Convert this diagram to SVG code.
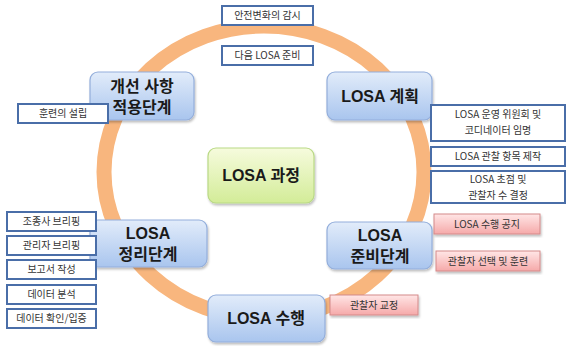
<svg xmlns="http://www.w3.org/2000/svg" width="567" height="346" viewBox="0 0 567 346">
<defs>
<linearGradient id="gBlue" x1="0" y1="0" x2="0" y2="1"><stop offset="0" stop-color="#E2ECFA"/><stop offset="1" stop-color="#A9C5EE"/></linearGradient>
<linearGradient id="gGreen" x1="0" y1="0" x2="0" y2="1"><stop offset="0" stop-color="#F6FBDD"/><stop offset="1" stop-color="#D3EC98"/></linearGradient>
<linearGradient id="gPink" x1="0" y1="0" x2="0" y2="1"><stop offset="0" stop-color="#FFE6E6"/><stop offset="1" stop-color="#F5A9A9"/></linearGradient>
<filter id="sh" x="-10%" y="-10%" width="120%" height="130%"><feDropShadow dx="1" dy="2" stdDeviation="1.2" flood-color="#000" flood-opacity="0.25"/></filter>
</defs>
<style>
.main{stroke:#93AEDB;stroke-width:1.2;fill:url(#gBlue);filter:url(#sh)}
.center{stroke:#B9D985;stroke-width:1.2;fill:url(#gGreen);filter:url(#sh)}
.note{fill:#fff;stroke:#4A6EA8;stroke-width:2}
.pink{fill:url(#gPink);stroke:#D48A8A;stroke-width:1;filter:url(#sh)}
.mt{font-family:"Liberation Sans","Noto Sans CJK KR",sans-serif;font-weight:bold;font-size:16px;fill:#1a1a1a;text-anchor:middle}
.nt{font-family:"Noto Sans CJK KR","Liberation Sans",sans-serif;font-size:10px;fill:#333;text-anchor:middle}
</style>
<rect width="567" height="346" fill="#fff"/>
<g id="connectors">
<ellipse cx="264" cy="172" rx="160" ry="146" fill="none" stroke="#F8B67E" stroke-width="15"/>
</g>
<g id="n_improve"><rect class="main" x="90" y="72" width="104" height="48" rx="8"/><text class="mt" x="142" y="92">개선 사항</text><text class="mt" x="142" y="113">적용단계</text></g>
<g id="n_plan"><rect class="main" x="327" y="72" width="105" height="48" rx="8"/><text class="mt" x="380" y="102">LOSA 계획</text></g>
<g id="n_process"><rect class="center" x="208" y="148" width="106" height="55" rx="8"/><text class="mt" x="261" y="181">LOSA 과정</text></g>
<g id="n_wrap"><rect class="main" x="90" y="220" width="117" height="47" rx="8"/><text class="mt" x="148" y="239">LOSA</text><text class="mt" x="148" y="260">정리단계</text></g>
<g id="n_prep"><rect class="main" x="327" y="222" width="105" height="47" rx="8"/><text class="mt" x="380" y="241">LOSA</text><text class="mt" x="380" y="262">준비단계</text></g>
<g id="n_do"><rect class="main" x="208" y="295" width="117" height="47" rx="8"/><text class="mt" x="266" y="324">LOSA 수행</text></g>
<g id="t_monitor"><rect class="note" x="222" y="6" width="91" height="19"/><text class="nt" x="267.5" y="19">안전변화의 감시</text></g>
<g id="t_next"><rect class="note" x="222" y="46" width="91" height="19"/><text class="nt" x="267.5" y="59">다음 LOSA 준비</text></g>
<g id="t_train"><rect class="note" x="18" y="104" width="90" height="19"/><text class="nt" x="63" y="117">훈련의 설립</text></g>
<g id="t_committee"><rect class="note" x="431" y="105" width="134" height="36"/><text class="nt" x="498" y="118">LOSA 운영 위원회 및</text><text class="nt" x="498" y="133.5">코디네이터 임명</text></g>
<g id="t_items"><rect class="note" x="431" y="147" width="134" height="19"/><text class="nt" x="498" y="160">LOSA 관찰 항목 제작</text></g>
<g id="t_focus"><rect class="note" x="431" y="171" width="134" height="32"/><text class="nt" x="498" y="183">LOSA 초점 및</text><text class="nt" x="498" y="198.5">관찰자 수 결정</text></g>
<g id="t_pilot"><rect class="note" x="7" y="212" width="89" height="19"/><text class="nt" x="51.5" y="225">조종사 브리핑</text></g>
<g id="t_manager"><rect class="note" x="7" y="236" width="89" height="19"/><text class="nt" x="51.5" y="249">관리자 브리핑</text></g>
<g id="t_report"><rect class="note" x="7" y="260" width="89" height="19"/><text class="nt" x="51.5" y="273">보고서 작성</text></g>
<g id="t_analysis"><rect class="note" x="7" y="285" width="89" height="19"/><text class="nt" x="51.5" y="298">데이터 분석</text></g>
<g id="t_verify"><rect class="note" x="7" y="309" width="89" height="19"/><text class="nt" x="51.5" y="322">데이터 확인/입증</text></g>
<g id="p_notice"><rect class="pink" x="434" y="214" width="106" height="20"/><text class="nt" x="487" y="228">LOSA 수행 공지</text></g>
<g id="p_select"><rect class="pink" x="436" y="251" width="104" height="20"/><text class="nt" x="488" y="265">관찰자 선택 및 훈련</text></g>
<g id="p_calib"><rect class="pink" x="330" y="295" width="88" height="20"/><text class="nt" x="374" y="309">관찰자 교정</text></g>
</svg>
